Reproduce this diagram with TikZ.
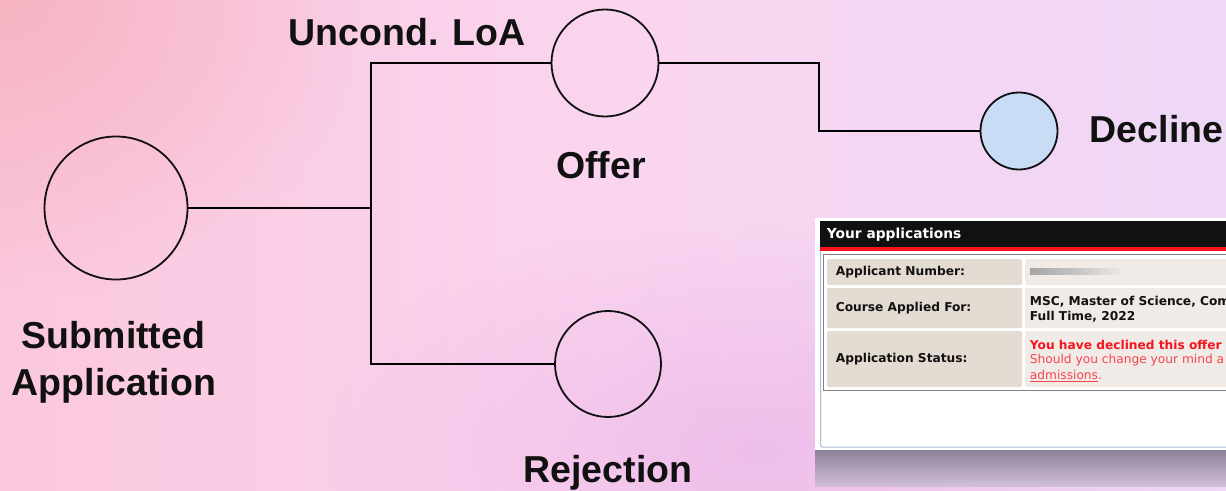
\documentclass[tikz,border=0pt]{standalone}
\usepackage{fontspec}
\setmainfont{Liberation Sans}
\newfontfamily\shotfont{DejaVu Sans}
\usetikzlibrary{positioning,fadings}
\tikzfading[name=glow,inner color=transparent!0,outer color=transparent!100]
\definecolor{Ink}{HTML}{111111}
\definecolor{Rose}{HTML}{F6B4C2}
\definecolor{Petal}{HTML}{FBC8DE}
\definecolor{Blush}{HTML}{FAD5EF}
\definecolor{Lilac}{HTML}{EED8F6}
\definecolor{Mauve}{HTML}{EBB4E8}
\definecolor{Sky}{HTML}{C8DCF5}
\definecolor{Sand}{HTML}{E4DBD2}
\definecolor{Linen}{HTML}{F1EBE7}
\definecolor{Alert}{HTML}{F5141E}
\definecolor{Frame}{HTML}{A9BDD2}
\definecolor{Shade}{HTML}{8E8298}

\begin{document}
\begin{tikzpicture}[x=1pt,y=-1pt,line width=1.8pt,
    stage/.style={draw=Ink,circle,inner sep=0pt},
    stagetext/.style={font=\fontsize{37.5}{45}\selectfont\bfseries,inner sep=0pt,anchor=base,text=Ink},
    cell/.style={font=\shotfont\fontsize{12.2}{15}\selectfont\bfseries,inner sep=0pt,anchor=west,text=Ink},
    plain/.style={cell,text=Alert!80,font=\shotfont\fontsize{12.2}{15}\selectfont}]
  \useasboundingbox (0,0) rectangle (1226,490);
  % background
  \fill[left color=Petal,right color=Lilac,middle color=Blush] (0,0) rectangle (1226,490);
  \fill[Rose,path fading=glow] (0,0) ellipse [x radius=380pt,y radius=300pt];
  \fill[Mauve,fill opacity=.7,path fading=glow] (760,450) ellipse [x radius=460pt,y radius=230pt];

  % screenshot of the portal
  \begin{scope}
    \clip (0,0) rectangle (1226,490);
    \shade[top color=Shade,bottom color=Shade!30!Lilac] (815,450) rectangle (1240,486);
    \fill[white] (815,218) rectangle (1240,450);
    \draw[Frame,line width=1pt,rounded corners=2pt] (820.5,221.5) rectangle (1245,447);
    \fill[Ink] (820,221) rectangle (1240,247);
    \fill[Alert] (820,247) rectangle (1240,251);
    \node[cell,text=white,font=\shotfont\fontsize{13.8}{15}\selectfont\bfseries] (title) at (826,235) {Your applications};
    \draw[gray,line width=1pt] (823,254) rectangle (1245,390);
    \foreach \top/\bot/\name/\txt in {259/285/num/Applicant Number:,288/328/course/Course Applied For:,331/387/status/Application Status:}{
      \fill[Sand,rounded corners=1.5pt] (827,\top) rectangle (1022,\bot);
      \fill[Linen,rounded corners=1.5pt] (1025,\top) rectangle (1245,\bot);
      \node[cell] (\name) at (835,{(\top+\bot)/2}) {\txt};}
    \shade[left color=gray!70,right color=Linen,middle color=gray!45] (1030,268.5) rectangle (1125,274);
    \node[cell] (courseA) at (1029,302) {MSC, Master of Science, Com};
    \node[cell] (courseB) at (1029,317) {Full Time, 2022};
    \node[cell,text=Alert] (statusA) at (1029,345) {You have declined this offer};
    \node[plain] (statusB) at (1029,360) {Should you change your mind a};
    \node[plain] (statusC) at (1029,376) {\underline{admissions}.};
  \end{scope}

  % decision tree
  \node[stage,minimum size=143pt] (sub) at (116,208) {};
  \node[stage,minimum size=107pt] (offer) at (605,63) {};
  \node[stage,minimum size=106pt] (rej) at (608,364) {};
  \node[stage,fill=Sky,minimum size=77pt] (dec) at (1019,131) {};
  \coordinate (fork) at (371,208);
  \coordinate (bend) at (819,63);
  \draw (sub) -- (fork);
  \draw (offer) -| (fork) |- (rej);
  \draw (offer) -- (bend) |- (dec);

  \node[stagetext] (loa) at (407,45) {Uncond. LoA};
  \node[stagetext] (offerlbl) at (601,178) {Offer};
  \node[stagetext,anchor=base west] (declbl) at (1089,142) {Decline};
  \node[stagetext] (sublbl) at (113.5,348) {Submitted};
  \node[stagetext] (applbl) at (114,395) {Application};
  \node[stagetext] (rejlbl) at (608,482) {Rejection};
\end{tikzpicture}
\end{document}
